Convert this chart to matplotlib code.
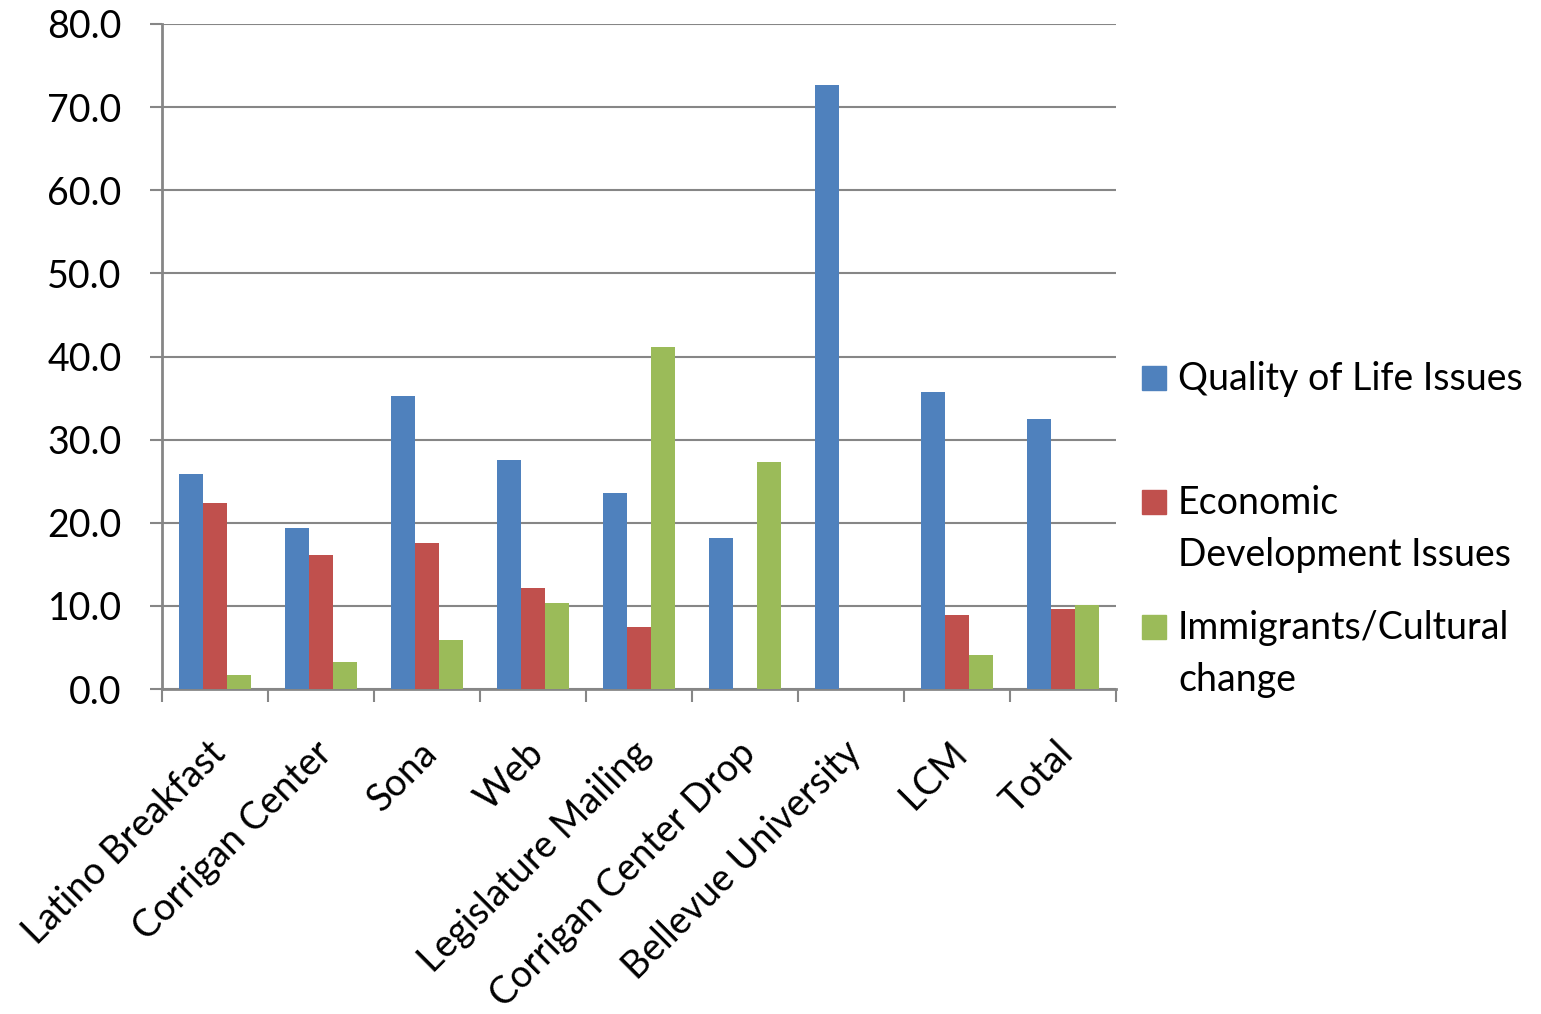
import numpy as np
import matplotlib.pyplot as plt
import matplotlib.transforms as mtransforms
from matplotlib.patches import Rectangle

plt.rcParams['font.family'] = ['Lato', 'DejaVu Sans']

categories = ['Latino Breakfast', 'Corrigan Center', 'Sona', 'Web', 'Legislature Mailing',
              'Corrigan Center Drop', 'Bellevue University', 'LCM', 'Total']
quality = [25.9, 19.4, 35.2, 27.5, 23.6, 18.2, 72.7, 35.7, 32.5]
economic = [22.4, 16.1, 17.6, 12.2, 7.5, 0.0, 0.0, 8.9, 9.6]
immigrants = [1.7, 3.2, 5.9, 10.3, 41.1, 27.3, 0.0, 4.1, 10.1]
series_names = ['Quality of Life Issues', 'Economic\nDevelopment Issues', 'Immigrants/Cultural\nchange']
colors = ['#4F81BD', '#C0504D', '#9BBB59']

fig = plt.figure(figsize=(15.41, 10.14), dpi=100)
ax = fig.add_axes([162/1541, 1-689/1014, (1116-162)/1541, (689-24)/1014])

x = np.arange(len(categories))
w = 0.225
for i, vals in enumerate([quality, economic, immigrants]):
    ax.bar(x + (i - 1) * w, vals, width=w, color=colors[i], zorder=3)

ax.set_xlim(-0.5, len(categories) - 0.5)
ax.set_ylim(0, 80)
ax.set_yticks(np.arange(0, 81, 10))
ax.set_yticklabels(['%.1f' % v for v in np.arange(0, 81, 10)], fontsize=27)
ax.yaxis.grid(True, color='#868686', linewidth=1.5, zorder=0)

ax.set_xticks(np.arange(-0.5, len(categories), 1.0))
ax.set_xticklabels([])
ax.set_xticks(x, minor=True)
ax.set_xticklabels(categories, minor=True, rotation=45, ha='right', va='top',
                   rotation_mode='anchor', fontsize=27)
ax.tick_params(axis='x', which='minor', length=0, pad=33)
ax.tick_params(axis='x', which='major', length=9, width=1.5, color='#868686')
ax.tick_params(axis='y', length=9, width=1.5, color='#868686', pad=20)
off = mtransforms.ScaledTranslation(-8/100, 0, fig.dpi_scale_trans)
for lab in ax.get_xticklabels(minor=True):
    lab.set_transform(lab.get_transform() + off)

for s in ['top', 'right']:
    ax.spines[s].set_visible(False)
for s in ['left', 'bottom']:
    ax.spines[s].set_color('#868686')
    ax.spines[s].set_linewidth(2)

# legend drawn by hand so squares sit on the first line of each label
legend_tops = [366, 490, 615]
for name, col, top in zip(series_names, colors, legend_tops):
    fig.patches.append(Rectangle((1142/1541, 1-(top+24)/1014), 24/1541, 24/1014,
                                 transform=fig.transFigure, color=col))
    for k, line in enumerate(name.split('\n')):
        fig.text(1178/1541, 1-(top+24+52*k)/1014, line, fontsize=27,
                 va='baseline', ha='left', transform=fig.transFigure)

fig.savefig('out.png', dpi=100)
